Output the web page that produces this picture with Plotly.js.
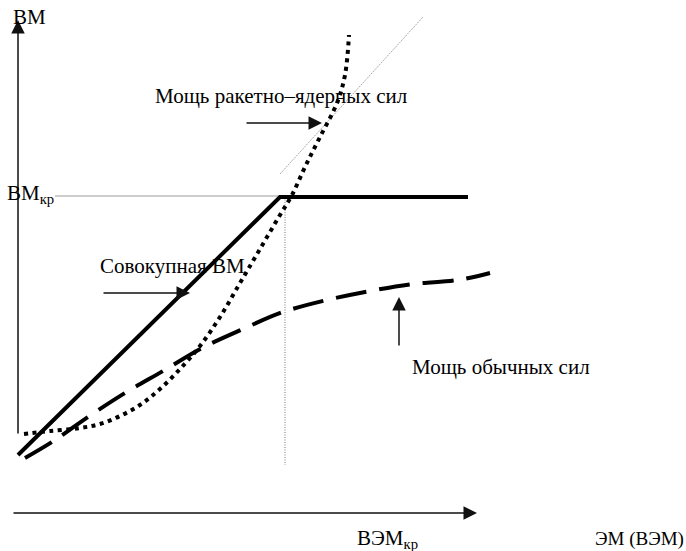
<!DOCTYPE html>
<html>
<head>
<meta charset="utf-8">
<script src="https://cdn.plot.ly/plotly-3.0.1.min.js"></script>
<style>html,body{margin:0;padding:0;background:#fff;}#chart{width:686px;height:551px;}</style>
</head>
<body>
<div id="chart"></div>
<script>
// Schematic values in picture units (x to the right, y downward)
const totalX = [18, 280, 468];
const totalY = [455, 197, 197];

const nuclearX = [24, 50, 80, 100, 120, 140, 160, 180, 200, 220, 240, 260, 280, 292, 305, 320, 337, 345, 349];
const nuclearY = [434, 431, 428, 424, 416, 405, 389, 369, 346, 317, 283, 249, 215, 195, 167, 137, 103, 75, 35];

const conventionalX = [25, 52, 88, 125, 163, 202, 243, 283, 327, 370, 413, 458, 490];
const conventionalY = [458, 442, 417, 393, 371, 348, 329, 312, 300, 291, 284, 280, 273];

const tangentX = [280, 423];
const tangentY = [174, 17];

const critLevelX = [55, 282];
const critLevelY = [196, 196];
const critPointX = [285, 285];
const critPointY = [197, 465];

const labels = {
  yAxis: 'ВМ',
  yCrit: 'ВМ<sub>кр</sub>',
  xCrit: 'ВЭМ<sub>кр</sub>',
  xAxis: 'ЭМ (ВЭМ)',
  nuclear: 'Мощь ракетно–ядерных сил',
  total: 'Совокупная ВМ',
  conventional: 'Мощь обычных сил'
};

const FAMILY = '"Liberation Serif", "Times New Roman", serif';
const FONT = {family: FAMILY, size: 21, color: '#000'};

const traces = [
  {x: critLevelX, y: critLevelY, mode: 'lines', line: {color: '#9a9a9a', width: 1}, hoverinfo: 'skip'},
  {x: critPointX, y: critPointY, mode: 'lines', line: {color: '#777', width: 1, dash: '1px,1.5px'}, hoverinfo: 'skip'},
  {x: tangentX, y: tangentY, mode: 'lines', line: {color: '#aaa', width: 1, dash: '2px,1px'}, hoverinfo: 'skip'},
  {x: totalX, y: totalY, mode: 'lines', line: {color: '#000', width: 4}, hoverinfo: 'skip'},
  {x: conventionalX, y: conventionalY, mode: 'lines', line: {color: '#000', width: 4, dash: '31px,13px', shape: 'spline'}, hoverinfo: 'skip'},
  {x: nuclearX, y: nuclearY, mode: 'lines', line: {color: '#000', width: 4, dash: '4px,4.5px', shape: 'spline'}, hoverinfo: 'skip'}
];

function arrow(x, y, ax, ay) {
  return {x: x, y: y, ax: ax, ay: ay, xref: 'x', yref: 'y', axref: 'x', ayref: 'y',
    text: '', showarrow: true, arrowhead: 2, arrowsize: 1.8, arrowwidth: 1.5, arrowcolor: '#111'};
}
function label(text, x, y, anchor, size) {
  return {x: x, y: y, xref: 'x', yref: 'y', text: text, showarrow: false,
    xanchor: anchor || 'left', yanchor: 'middle',
    font: size ? {family: FAMILY, size: size, color: '#000'} : FONT};
}

const annotations = [
  arrow(18, 20, 18, 435),
  arrow(477, 513, 12, 513),
  arrow(322, 123, 245, 123),
  arrow(190, 293, 102, 293),
  arrow(399, 297, 399, 347),
  label(labels.yAxis, 11, 17),
  label(labels.yCrit, 5, 194),
  label(labels.xCrit, 355, 539),
  label(labels.xAxis, 686, 539, 'right', 19),
  label(labels.nuclear, 153, 96),
  label(labels.total, 98, 266),
  label(labels.conventional, 410, 367)
];

const layout = {
  width: 686, height: 551,
  margin: {l: 0, r: 0, t: 0, b: 0},
  paper_bgcolor: '#fff', plot_bgcolor: '#fff',
  showlegend: false,
  xaxis: {range: [0, 686], visible: false, fixedrange: true},
  yaxis: {range: [551, 0], visible: false, fixedrange: true},
  annotations: annotations
};

Plotly.newPlot('chart', traces, layout, {displayModeBar: false, staticPlot: true});
</script>
</body>
</html>
